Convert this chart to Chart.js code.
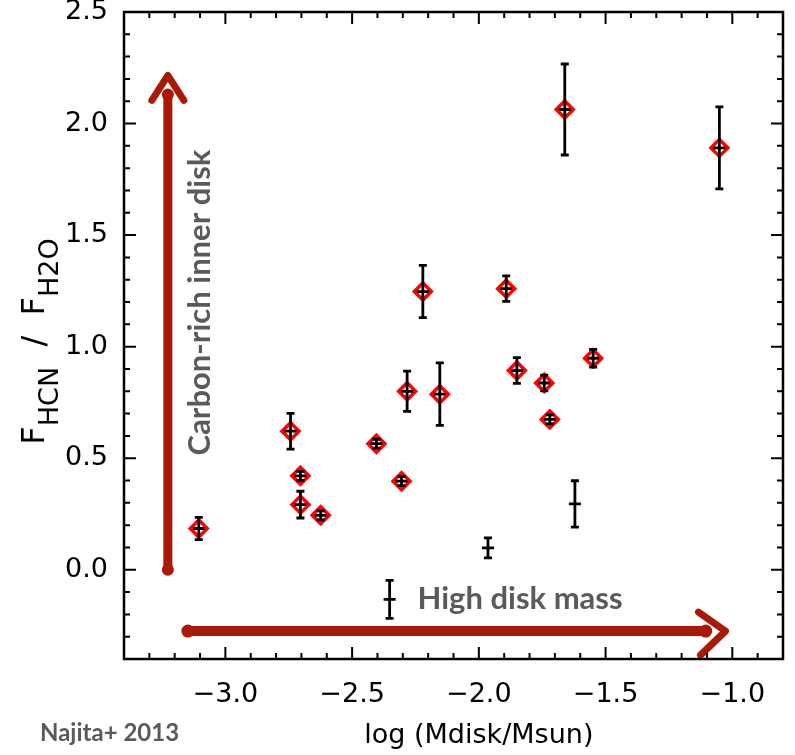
<!DOCTYPE html>
<html>
<head>
<meta charset="utf-8">
<script src="https://cdn.jsdelivr.net/npm/chart.js@4"></script>
<style>
  html, body { margin: 0; padding: 0; background: #fff; }
  #wrap { width: 795px; height: 755px; position: relative; }
</style>
</head>
<body>
<div id="wrap"><canvas id="myChart"></canvas></div>
<script>
// sources with red diamonds: log Mdisk, HCN/H2O flux ratio, error
const diskMass = [-3.105, -2.743, -2.704, -2.704, -2.624, -2.404, -2.305, -2.283, -2.221, -2.154, -1.892, -1.850, -1.742, -1.720, -1.661, -1.549, -1.051];
const fluxRatio = [0.185, 0.621, 0.421, 0.292, 0.244, 0.565, 0.397, 0.800, 1.247, 0.787, 1.260, 0.893, 0.837, 0.674, 2.063, 0.948, 1.891];
const ratioErr = [0.05, 0.08, 0.02, 0.06, 0.02, 0.02, 0.02, 0.09, 0.117, 0.14, 0.057, 0.058, 0.035, 0.02, 0.204, 0.04, 0.184];

// sources drawn with an error bar only
const plainMass = [-2.352, -1.964, -1.621];
const plainRatio = [-0.133, 0.098, 0.295];
const plainErr = [0.085, 0.045, 0.104];

// tick labels
const xTicks = [-3.0, -2.5, -2.0, -1.5, -1.0];
const xTickLabels = ["\u22123.0", "\u22122.5", "\u22122.0", "\u22121.5", "\u22121.0"];
const yTicks = [0.0, 0.5, 1.0, 1.5, 2.0, 2.5];
const yTickLabels = ["0.0", "0.5", "1.0", "1.5", "2.0", "2.5"];

// hand drawn arrows, in data units
const upArrowX = [-3.227, -3.227];
const upArrowY = [0.0, 2.13];
const upArrowTip = 2.216;
const rightArrowX = [-3.148, -1.105];
const rightArrowY = [-0.275, -0.275];
const rightArrowTip = -1.027;

const arrowRed = "#a81a05";
const noteGray = "#5a5a5a";

const toPoints = (xs, ys) => xs.map((x, i) => ({ x: x, y: ys[i] }));

// error bars, centre dashes, arrow heads and notes
const extras = {
  id: "extras",
  afterDatasetsDraw(chart) {
    const { ctx, scales: { x, y } } = chart;
    ctx.save();

    // arrow heads
    ctx.strokeStyle = arrowRed;
    ctx.lineWidth = 7;
    ctx.lineCap = "round";
    ctx.lineJoin = "round";
    let px = x.getPixelForValue(upArrowX[1]);
    let py = y.getPixelForValue(upArrowTip);
    ctx.beginPath();
    ctx.moveTo(px - 16, py + 25);
    ctx.lineTo(px, py);
    ctx.lineTo(px + 16, py + 25);
    ctx.stroke();
    px = x.getPixelForValue(rightArrowTip);
    py = y.getPixelForValue(rightArrowY[1]);
    ctx.beginPath();
    ctx.moveTo(px - 27, py - 19);
    ctx.lineTo(px, py);
    ctx.lineTo(px - 25, py + 24);
    ctx.stroke();

    // error bars
    ctx.strokeStyle = "#000";
    ctx.lineWidth = 2.8;
    ctx.lineCap = "butt";
    const bar = (m, r, e) => {
      const cx = x.getPixelForValue(m);
      const cy = y.getPixelForValue(r);
      const t = y.getPixelForValue(r + e);
      const b = y.getPixelForValue(r - e);
      ctx.beginPath();
      ctx.moveTo(cx, t); ctx.lineTo(cx, b);
      ctx.moveTo(cx - 4, t); ctx.lineTo(cx + 4, t);
      ctx.moveTo(cx - 4, b); ctx.lineTo(cx + 4, b);
      ctx.moveTo(cx - 6, cy); ctx.lineTo(cx + 6, cy);
      ctx.stroke();
    };
    diskMass.forEach((m, i) => bar(m, fluxRatio[i], ratioErr[i]));
    plainMass.forEach((m, i) => bar(m, plainRatio[i], plainErr[i]));

    // notes
    ctx.fillStyle = noteGray;
    ctx.font = "bold 31px Lato";
    ctx.textBaseline = "middle";
    ctx.textAlign = "left";
    ctx.fillText("High disk mass", x.getPixelForValue(-2.242), y.getPixelForValue(-0.133));
    ctx.save();
    ctx.translate(x.getPixelForValue(-3.1), y.getPixelForValue(1.198));
    ctx.rotate(-Math.PI / 2);
    ctx.textAlign = "center";
    ctx.fillText("Carbon-rich inner disk", 0, 0);
    ctx.restore();
    ctx.restore();
  },
  afterDraw(chart) {
    const { ctx, chartArea: a, scales: { x, y } } = chart;
    ctx.save();
    ctx.strokeStyle = "#000";
    ctx.lineWidth = 2.5;
    ctx.strokeRect(a.left, a.top, a.right - a.left, a.bottom - a.top);

    // major and minor ticks on all four sides, pointing in
    ctx.lineWidth = 2;
    ctx.beginPath();
    for (let k = Math.ceil(x.min * 10); k <= Math.floor(x.max * 10); k++) {
      const len = k % 5 === 0 ? 12 : 6;
      const p = x.getPixelForValue(k / 10);
      ctx.moveTo(p, a.bottom); ctx.lineTo(p, a.bottom - len);
      ctx.moveTo(p, a.top); ctx.lineTo(p, a.top + len);
    }
    for (let k = Math.ceil(y.min * 10); k <= Math.floor(y.max * 10); k++) {
      const len = k % 5 === 0 ? 12 : 6;
      const p = y.getPixelForValue(k / 10);
      ctx.moveTo(a.left, p); ctx.lineTo(a.left + len, p);
      ctx.moveTo(a.right, p); ctx.lineTo(a.right - len, p);
    }
    ctx.stroke();

    // axis titles
    ctx.fillStyle = "#000";
    ctx.textBaseline = "alphabetic";
    ctx.textAlign = "center";
    ctx.font = "27px 'DejaVu Sans'";
    ctx.fillText("log (Mdisk/Msun)", x.getPixelForValue(-2.0), 743);

    ctx.save();
    ctx.translate(44, (a.top + a.bottom) / 2 + 6);
    ctx.rotate(-Math.PI / 2);
    const parts = [["F", 0, 32], ["HCN", 14, 27], ["  /  ", 0, 32], ["F", 0, 32], ["H2O", 14, 27]];
    let total = 0;
    parts.forEach(([t, d, s]) => { ctx.font = s + "px 'DejaVu Sans'"; total += ctx.measureText(t).width; });
    let cur = -total / 2;
    ctx.textAlign = "left";
    parts.forEach(([t, d, s]) => {
      ctx.font = s + "px 'DejaVu Sans'";
      ctx.fillText(t, cur, d);
      cur += ctx.measureText(t).width;
    });
    ctx.restore();

    ctx.fillStyle = noteGray;
    ctx.font = "bold 24px Lato";
    ctx.textAlign = "left";
    ctx.textBaseline = "middle";
    ctx.fillText("Najita+ 2013", 40, 733);
    ctx.restore();
  }
};

Chart.defaults.font.family = "'DejaVu Sans'";
Chart.defaults.color = "#000";

const ctx = document.getElementById("myChart").getContext("2d");
const myChart = new Chart(ctx, {
  type: "scatter",
  data: {
    datasets: [
      {
        label: "diamonds",
        data: toPoints(diskMass, fluxRatio),
        pointStyle: "rectRot",
        pointRadius: 8.5,
        borderWidth: 3.5,
        borderColor: "#ff0000",
        backgroundColor: "#ffffff",
      },
      {
        type: "line",
        label: "up arrow",
        data: toPoints(upArrowX, upArrowY),
        borderColor: arrowRed,
        backgroundColor: arrowRed,
        borderWidth: 9,
        borderCapStyle: "round",
        pointRadius: 6,
        pointBorderWidth: 0,
      },
      {
        type: "line",
        label: "right arrow",
        data: toPoints(rightArrowX, rightArrowY),
        borderColor: arrowRed,
        backgroundColor: arrowRed,
        borderWidth: 10,
        borderCapStyle: "round",
        pointRadius: 6.5,
        pointBorderWidth: 0,
      },
    ],
  },
  options: {
    responsive: true,
    maintainAspectRatio: false,
    animation: false,
    layout: { padding: { top: 12, right: 5, left: 0, bottom: 0 } },
    plugins: { legend: { display: false }, tooltip: { enabled: false } },
    scales: {
      x: {
        type: "linear",
        min: -3.4,
        max: -0.8,
        afterBuildTicks: (s) => { s.ticks = xTicks.map((v) => ({ value: v })); },
        afterFit: (s) => { s.height = 96; s.paddingLeft = 0; s.paddingRight = 0; },
        grid: { display: false, drawTicks: false },
        border: { display: false },
        ticks: {
          callback: (v) => xTickLabels[xTicks.indexOf(v)],
          font: { size: 27 },
          padding: 20,
          maxRotation: 0,
          autoSkip: false,
        },
      },
      y: {
        type: "linear",
        min: -0.4,
        max: 2.5,
        afterBuildTicks: (s) => { s.ticks = yTicks.map((v) => ({ value: v })); },
        afterFit: (s) => { s.width = 124; s.paddingTop = 0; s.paddingBottom = 0; },
        grid: { display: false, drawTicks: false },
        border: { display: false },
        ticks: {
          callback: (v) => yTickLabels[yTicks.indexOf(v)],
          font: { size: 27 },
          padding: 16,
          autoSkip: false,
        },
      },
    },
  },
  plugins: [extras],
});
</script>
</body>
</html>
